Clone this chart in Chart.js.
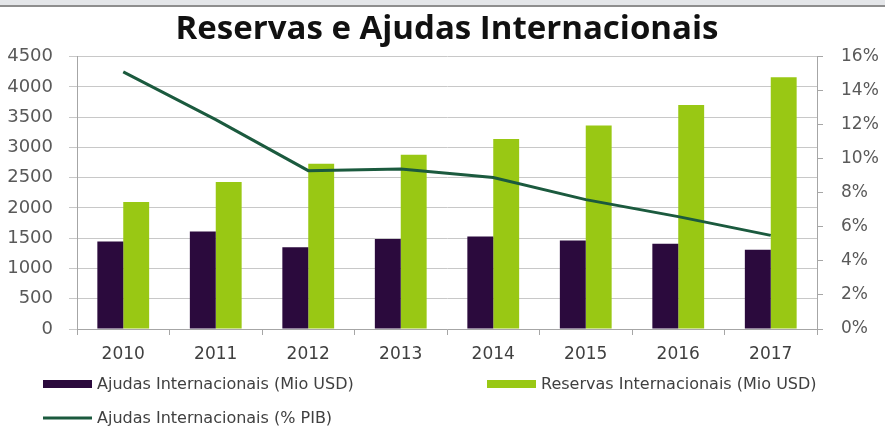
<!DOCTYPE html>
<html lang="pt">
<head>
<meta charset="UTF-8">
<title>Reservas e Ajudas Internacionais</title>
<script src="https://cdn.jsdelivr.net/npm/chart.js"></script>
<style>
  html, body { margin: 0; padding: 0; background: #fff; }
  .wrap { position: relative; width: 885px; height: 440px; }
  .faixa { position: absolute; left: 0; top: 0; width: 885px; height: 5px; background: #e4e6e9; border-bottom: 2px solid #8e8e8e; }
</style>
</head>
<body>
<div class="wrap">
  <canvas id="grafico" width="885" height="440"></canvas>
  <div class="faixa"></div>
</div>
<script>
  const anos = ['2010', '2011', '2012', '2013', '2014', '2015', '2016', '2017'];
  const ajudasUSD = [1445, 1610, 1350, 1485, 1530, 1460, 1410, 1310];
  const reservasUSD = [2100, 2430, 2730, 2880, 3140, 3360, 3700, 4160];
  const ajudasPIB = [15.1, 12.3, 9.3, 9.4, 8.9, 7.6, 6.6, 5.5];

  const corTexto = '#595959';
  const corGrade = '#c8c8c8';

  // legenda desenhada à mão: duas colunas como no Excel
  const legendaManual = {
    id: 'legendaManual',
    afterDraw(chart) {
      const ctx = chart.ctx;
      const itens = chart.data.datasets;
      const pos = [[43, 384], [487, 384], [43, 418]];
      ctx.save();
      ctx.font = '16px "DejaVu Sans"';
      ctx.textBaseline = 'middle';
      itens.forEach((ds, i) => {
        const [x, y] = pos[i];
        if (ds.type === 'line') {
          ctx.strokeStyle = ds.borderColor;
          ctx.lineWidth = 3;
          ctx.beginPath();
          ctx.moveTo(x, y);
          ctx.lineTo(x + 49, y);
          ctx.stroke();
        } else {
          ctx.fillStyle = ds.backgroundColor;
          ctx.fillRect(x, y - 4, 49, 8);
        }
        ctx.fillStyle = '#404040';
        ctx.fillText(ds.label, x + 54, y + 1);
      });
      ctx.restore();
    }
  };

  new Chart(document.getElementById('grafico'), {
    type: 'bar',
    data: {
      labels: anos,
      datasets: [
        {
          label: 'Ajudas Internacionais (Mio USD)',
          data: ajudasUSD,
          backgroundColor: '#2b0a3d',
          yAxisID: 'y',
          order: 2
        },
        {
          label: 'Reservas Internacionais (Mio USD)',
          data: reservasUSD,
          backgroundColor: '#99c814',
          yAxisID: 'y',
          order: 3
        },
        {
          type: 'line',
          label: 'Ajudas Internacionais (% PIB)',
          data: ajudasPIB,
          borderColor: '#1b5a3e',
          backgroundColor: '#1b5a3e',
          borderWidth: 3,
          pointRadius: 0,
          tension: 0,
          yAxisID: 'y1',
          order: 1
        }
      ]
    },
    options: {
      responsive: false,
      animation: false,
      layout: { padding: { bottom: 66 } },
      datasets: { bar: { categoryPercentage: 0.56, barPercentage: 1 } },
      plugins: {
        legend: { display: false },
        tooltip: { enabled: false },
        title: {
          display: true,
          text: 'Reservas e Ajudas Internacionais',
          fullSize: false,
          color: '#111',
          font: { family: '"Open Sans"', size: 33, weight: 'bold', lineHeight: 1.2 },
          padding: { top: 10, bottom: 7 }
        }
      },
      scales: {
        x: {
          grid: { offset: true, drawOnChartArea: false, drawTicks: true, tickLength: 6, color: '#a6a6a6' },
          border: { color: '#a6a6a6' },
          ticks: { color: '#404040', font: { family: '"DejaVu Sans"', size: 17 }, padding: 9 },
          afterFit(scale) { scale.height = 45; }
        },
        y: {
          position: 'left',
          min: 0,
          max: 4500,
          ticks: { stepSize: 500, color: corTexto, font: { family: '"DejaVu Sans"', size: 18 }, padding: 16, callback: v => String(v) },
          grid: { color: corGrade, tickLength: 8 },
          border: { color: '#a6a6a6' },
          afterFit(scale) { scale.width = 77; }
        },
        y1: {
          position: 'right',
          min: 0,
          max: 16,
          ticks: { stepSize: 2, color: corTexto, font: { family: '"DejaVu Sans"', size: 17 }, padding: 18, callback: v => v + '%' },
          grid: { drawOnChartArea: false, tickLength: 6, color: '#a6a6a6' },
          border: { color: '#a6a6a6' },
          afterFit(scale) { scale.width = 68; }
        }
      }
    },
    plugins: [legendaManual]
  });
</script>
</body>
</html>
